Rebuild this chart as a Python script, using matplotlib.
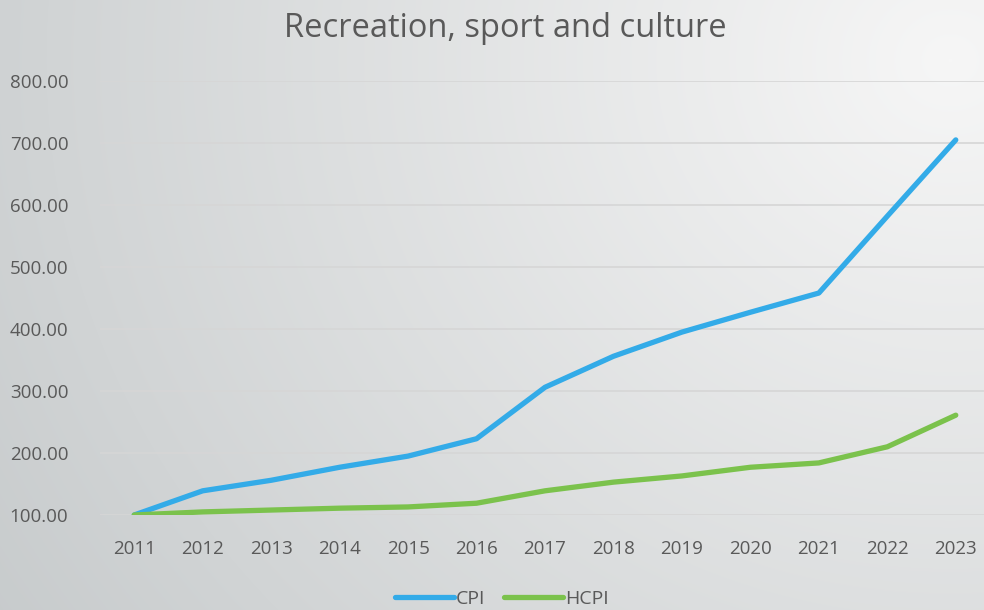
import matplotlib.pyplot as plt
import numpy as np

years = ["2011", "2012", "2013", "2014", "2015", "2016", "2017",
         "2018", "2019", "2020", "2021", "2022", "2023"]
cpi = [100, 139, 156, 177, 195, 223, 306, 356, 395, 427, 458, 582, 705]
hcpi = [100, 105, 108, 111, 113, 119, 139, 153, 163, 177, 184, 210, 261]

plt.rcParams['font.family'] = ['Open Sans', 'DejaVu Sans']

fig = plt.figure(figsize=(9.84, 6.10), dpi=100)

# gradient background
bg = fig.add_axes([0, 0, 1, 1], zorder=-10)
h, w = 610, 984
yy, xx = np.mgrid[0:h, 0:w]
d = np.sqrt((xx - 950) ** 2 + ((yy - 60) * 1.1) ** 2)
t = np.clip(d / 1150, 0, 1)
light = np.array([0.965, 0.965, 0.965])
dark = np.array([0.78, 0.795, 0.80])
img = light[None, None, :] * (1 - t[..., None]) + dark[None, None, :] * t[..., None]
bg.imshow(img, aspect='auto', extent=[0, 1, 0, 1], origin='upper')
bg.axis('off')

ax = fig.add_axes([100 / 984, 95 / 610, 890 / 984, 434 / 610])
ax.set_facecolor('none')
x = np.arange(len(years))
ax.plot(x, cpi, color='#33abe8', lw=3.8, solid_capstyle='round', label='CPI', zorder=3)
ax.plot(x, hcpi, color='#7bc24c', lw=3.8, solid_capstyle='round', label='HCPI', zorder=4)

ax.set_xlim(-0.5, len(years) - 0.5)
ax.set_ylim(100, 800)
ax.set_yticks(range(100, 801, 100))
ax.set_yticklabels([f"{v:.2f}" for v in range(100, 801, 100)])
ax.set_xticks(x)
ax.set_xticklabels(years)
ax.grid(axis='y', color='#d6d6d6', lw=1.2)
ax.set_axisbelow(True)
for s in ax.spines.values():
    s.set_visible(False)
ax.tick_params(length=0, colors='#595959', labelsize=13.5)
ax.tick_params(axis='y', pad=65)
for lbl in ax.get_yticklabels():
    lbl.set_horizontalalignment('left')
ax.tick_params(axis='x', pad=18)

fig.text(0.514, 0.953, "Recreation, sport and culture", ha='center', va='center',
         fontsize=23.5, color='#595959')

fig.legend(loc='center', bbox_to_anchor=(0.51, 0.018), ncol=2, frameon=False,
           fontsize=14, labelcolor='#595959', handlelength=3.0, handletextpad=0.1,
           columnspacing=1.0)

fig.savefig('out.png', dpi=100)
